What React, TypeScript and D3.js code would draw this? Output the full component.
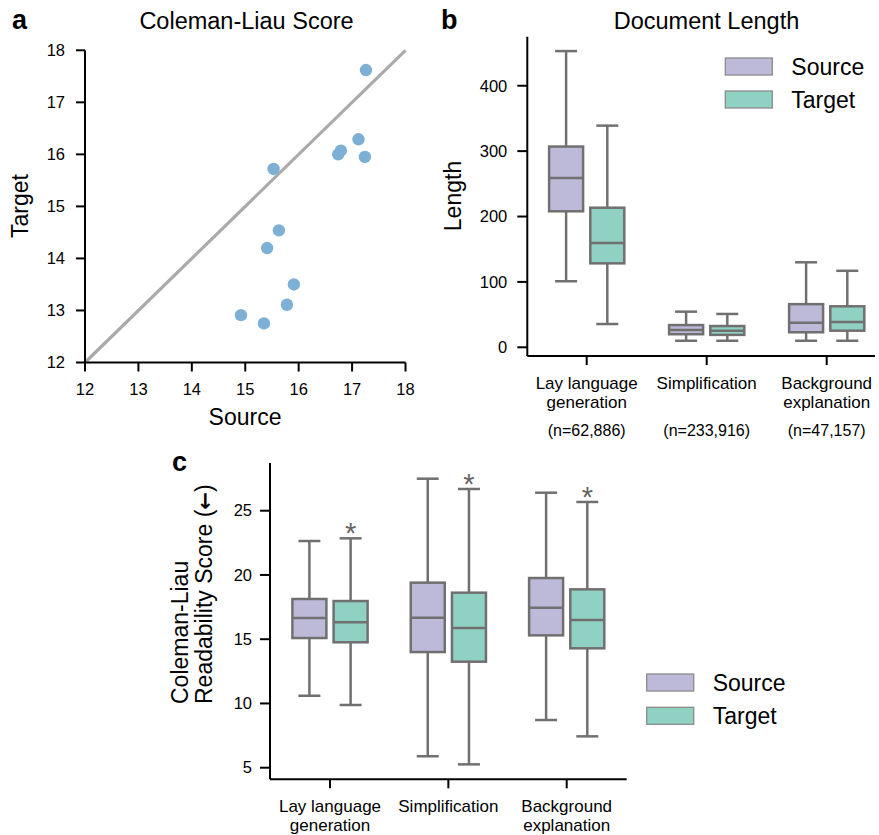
import React from "react";
import * as d3 from "d3";

const FONT = "'Liberation Sans', Arial, Helvetica, sans-serif";
const SOURCE_FILL = "#bcb9d9";
const TARGET_FILL = "#8fd2c3";
const BOX_STROKE = "#707070";
const DOT_FILL = "#7eb0d5";

// Panel a: per-dataset mean Coleman-Liau scores
const scatterSource = [17.26, 17.12, 16.79, 16.74, 17.24, 15.53, 15.63, 15.41, 15.91, 15.78, 14.92, 15.35];
const scatterTarget = [17.62, 16.29, 16.07, 16.0, 15.95, 15.72, 14.54, 14.2, 13.5, 13.11, 12.91, 12.75];
const scatterTicks = [12, 13, 14, 15, 16, 17, 18];

// Task categories shared by panels b and c
const categories = ["Lay language\ngeneration", "Simplification", "Background\nexplanation"];
const sampleSizes = ["(n=62,886)", "(n=233,916)", "(n=47,157)"];
const seriesNames = ["Source", "Target"];

// Box stats: [lower whisker, Q1, median, Q3, upper whisker]
const lengthSourceStats = [
  [101, 208, 259, 307, 453],
  [10, 20, 26.5, 34, 54.5],
  [10, 23, 37.6, 66, 130],
];
const lengthTargetStats = [
  [35.6, 128.4, 159.5, 213.5, 339],
  [10, 19, 25.4, 32.5, 51],
  [10, 25.4, 38.7, 62.7, 117],
];
const lengthTicks = [0, 100, 200, 300, 400];

const readabilitySourceStats = [
  [10.6, 15.09, 16.65, 18.13, 22.64],
  [5.89, 14.0, 16.67, 19.4, 27.49],
  [8.71, 15.3, 17.45, 19.76, 26.4],
];
const readabilityTargetStats = [
  [9.88, 14.76, 16.31, 17.97, 22.85],
  [5.26, 13.25, 15.87, 18.62, 26.69],
  [7.44, 14.29, 16.5, 18.88, 25.68],
];
const readabilityTicks = [5, 10, 15, 20, 25];

type Scale = d3.ScaleLinear<number, number>;

function BoxPlot({ cx, width, stats, y, fill, capWidth }: { cx: number; width: number; stats: number[]; y: Scale; fill: string; capWidth: number }) {
  const [lo, q1, med, q3, hi] = stats;
  const sw = 2.5;
  return (
    <g stroke={BOX_STROKE} strokeWidth={sw} fill="none">
      <line x1={cx} x2={cx} y1={y(hi)} y2={y(q3)} />
      <line x1={cx} x2={cx} y1={y(q1)} y2={y(lo)} />
      <line x1={cx - capWidth / 2} x2={cx + capWidth / 2} y1={y(hi)} y2={y(hi)} />
      <line x1={cx - capWidth / 2} x2={cx + capWidth / 2} y1={y(lo)} y2={y(lo)} />
      <rect x={cx - width / 2} y={y(q3)} width={width} height={y(q1) - y(q3)} fill={fill} />
      <line x1={cx - width / 2} x2={cx + width / 2} y1={y(med)} y2={y(med)} />
    </g>
  );
}

function YAxis({ x, y, ticks, tickLen, pad, fontSize, y0, y1 }: { x: number; y: Scale; ticks: number[]; tickLen: number; pad: number; fontSize: number; y0: number; y1: number }) {
  return (
    <g>
      <line x1={x} x2={x} y1={y0} y2={y1} stroke="#000" strokeWidth={2} />
      {ticks.map((t) => (
        <g key={t}>
          <line x1={x - tickLen} x2={x} y1={y(t)} y2={y(t)} stroke="#000" strokeWidth={2} />
          <text x={x - tickLen - pad} y={y(t)} dy="0.35em" textAnchor="end" fontSize={fontSize} fontFamily={FONT}>
            {t}
          </text>
        </g>
      ))}
    </g>
  );
}

function CategoryLabels({ x, baseline, lineGap, fontSize }: { x: d3.ScalePoint<string>; baseline: number; lineGap: number; fontSize: number }) {
  return (
    <g>
      {categories.map((c) =>
        c.split("\n").map((line, i) => (
          <text key={c + i} x={x(c)} y={baseline + i * lineGap} textAnchor="middle" fontSize={fontSize} fontFamily={FONT}>
            {line}
          </text>
        ))
      )}
    </g>
  );
}

function Legend({ x, y, gap }: { x: number; y: number; gap: number }) {
  const fills = [SOURCE_FILL, TARGET_FILL];
  return (
    <g>
      {seriesNames.map((name, i) => (
        <g key={name} transform={`translate(${x},${y + i * gap})`}>
          <rect x={0} y={0} width={47} height={17} fill={fills[i]} stroke="#8a8a8a" strokeWidth={1.3} />
          <text x={66} y={8.5} dy="0.36em" fontSize={23} fontFamily={FONT}>
            {name}
          </text>
        </g>
      ))}
    </g>
  );
}

export default function App() {
  // Panel a scales
  const ax = d3.scaleLinear().domain([12, 18]).range([85, 405.5]);
  const ay = d3.scaleLinear().domain([12, 18]).range([362.5, 50.3]);
  const diagonal = d3.line<number>().x((d) => ax(d)).y((d) => ay(d));

  // Panel b scales
  const bx = d3.scalePoint<string>().domain(categories).range([586.7, 826.7]);
  const by = d3.scaleLinear().domain([-13.3, 475]).range([356, 36.7]);

  // Panel c scales
  const cx = d3.scalePoint<string>().domain(categories).range([330, 566.7]);
  const cy = d3.scaleLinear().domain([25, 5]).range([510.7, 767.7]);

  const offset = 20.6;
  const boxW = 34;
  const capW = 22;

  return (
    <svg width={879} height={835} style={{ position: "absolute", left: 0, top: 0, background: "#fff" }}>
      <rect width={879} height={835} fill="#fff" />

      {/* Panel a: scatter */}
      <text x={12} y={29} fontSize={27} fontWeight="bold" fontFamily={FONT}>a</text>
      <text x={246.5} y={29} textAnchor="middle" fontSize={23.5} fontFamily={FONT}>Coleman-Liau Score</text>
      <path d={diagonal([12, 18]) || ""} stroke="#aaaaaa" strokeWidth={3.2} fill="none" />
      {scatterSource.map((s, i) => (
        <circle key={i} cx={ax(s)} cy={ay(scatterTarget[i])} r={6.2} fill={DOT_FILL} />
      ))}
      <YAxis x={ax(12)} y={ay} ticks={scatterTicks} tickLen={9} pad={11} fontSize={16.5} y0={ay(18)} y1={ay(12)} />
      <line x1={ax(12)} x2={ax(18)} y1={ay(12)} y2={ay(12)} stroke="#000" strokeWidth={2} />
      {scatterTicks.map((t) => (
        <g key={t}>
          <line x1={ax(t)} x2={ax(t)} y1={ay(12)} y2={ay(12) + 9} stroke="#000" strokeWidth={2} />
          <text x={ax(t)} y={395} textAnchor="middle" fontSize={16.5} fontFamily={FONT}>{t}</text>
        </g>
      ))}
      <text x={245} y={425} textAnchor="middle" fontSize={23} fontFamily={FONT}>Source</text>
      <text transform="translate(28,206) rotate(-90)" textAnchor="middle" fontSize={23} fontFamily={FONT}>Target</text>

      {/* Panel b: document length */}
      <text x={441} y={29} fontSize={27} fontWeight="bold" fontFamily={FONT}>b</text>
      <text x={706.5} y={29} textAnchor="middle" fontSize={23.5} fontFamily={FONT}>Document Length</text>
      {categories.map((c, i) => (
        <g key={c}>
          <BoxPlot cx={(bx(c) as number) - offset} width={boxW} stats={lengthSourceStats[i]} y={by} fill={SOURCE_FILL} capWidth={capW} />
          <BoxPlot cx={(bx(c) as number) + offset} width={boxW} stats={lengthTargetStats[i]} y={by} fill={TARGET_FILL} capWidth={capW} />
        </g>
      ))}
      <YAxis x={527.3} y={by} ticks={lengthTicks} tickLen={10} pad={10} fontSize={16.5} y0={by(475)} y1={by(-13.3)} />
      <line x1={527.3} x2={875} y1={356} y2={356} stroke="#000" strokeWidth={2} />
      {categories.map((c) => (
        <line key={c} x1={bx(c)} x2={bx(c)} y1={356} y2={365} stroke="#000" strokeWidth={2} />
      ))}
      <CategoryLabels x={bx} baseline={389} lineGap={18.5} fontSize={17} />
      {categories.map((c, i) => (
        <text key={c} x={bx(c)} y={436} textAnchor="middle" fontSize={16} fontFamily={FONT}>{sampleSizes[i]}</text>
      ))}
      <text transform="translate(461,196) rotate(-90)" textAnchor="middle" fontSize={23} fontFamily={FONT}>Length</text>
      <Legend x={725.3} y={58} gap={33} />

      {/* Panel c: readability */}
      <text x={172} y={471} fontSize={27} fontWeight="bold" fontFamily={FONT}>c</text>
      {categories.map((c, i) => (
        <g key={c}>
          <BoxPlot cx={(cx(c) as number) - offset} width={boxW} stats={readabilitySourceStats[i]} y={cy} fill={SOURCE_FILL} capWidth={capW} />
          <BoxPlot cx={(cx(c) as number) + offset} width={boxW} stats={readabilityTargetStats[i]} y={cy} fill={TARGET_FILL} capWidth={capW} />
          <text x={(cx(c) as number) + offset} y={cy(readabilityTargetStats[i][4]) + 5} textAnchor="middle" fontSize={29} fill="#666" fontFamily={FONT}>*</text>
        </g>
      ))}
      <YAxis x={270} y={cy} ticks={readabilityTicks} tickLen={10} pad={8} fontSize={16.5} y0={463} y1={779.3} />
      <line x1={270} x2={626.7} y1={779.3} y2={779.3} stroke="#000" strokeWidth={2} />
      {categories.map((c) => (
        <line key={c} x1={cx(c)} x2={cx(c)} y1={779.3} y2={788.3} stroke="#000" strokeWidth={2} />
      ))}
      <CategoryLabels x={cx} baseline={812} lineGap={18.5} fontSize={17} />
      <text transform="translate(188,704) rotate(-90)" textAnchor="start" fontSize={23} fontFamily={FONT}>Coleman-Liau</text>
      <text transform="translate(212,704) rotate(-90)" textAnchor="start" fontSize={23} fontFamily={FONT}>
        Readability Score (<tspan fontFamily="'DejaVu Sans'" fontWeight="bold" fontSize={21}>←</tspan>)
      </text>
      <Legend x={646.7} y={674} gap={33.3} />
    </svg>
  );
}
